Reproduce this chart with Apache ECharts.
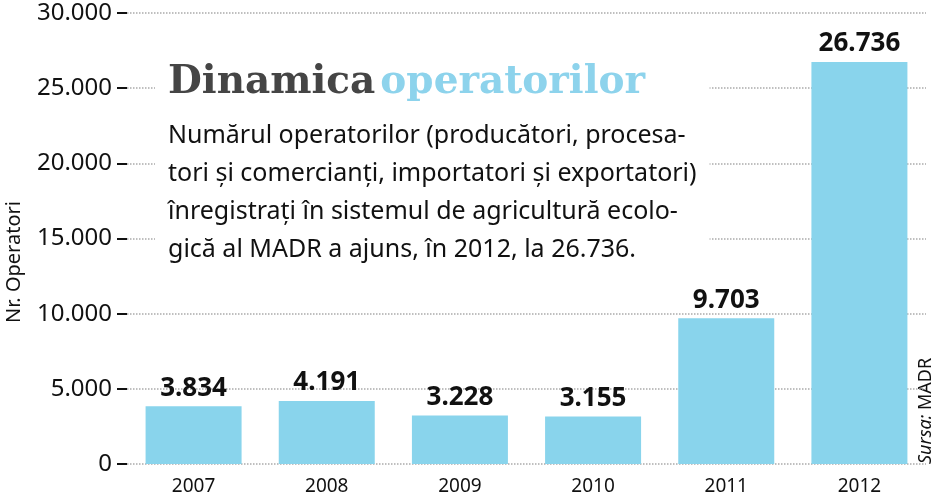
<!DOCTYPE html>
<html>
<head>
<meta charset="utf-8">
<script src="https://cdn.jsdelivr.net/npm/echarts@6/dist/echarts.min.js"></script>
<style>
  html, body { margin: 0; padding: 0; background: #fff; }
  #chart { width: 938px; height: 500px; }
</style>
</head>
<body>
<div id="chart"></div>
<script>
// data
const years = ['2007', '2008', '2009', '2010', '2011', '2012'];
const operators = [3834, 4191, 3228, 3155, 9703, 26736];
const yTicks = [0, 5000, 10000, 15000, 20000, 25000, 30000];

const titleMain = 'Dinamica';
const titleAccent = 'operatorilor';
const blurb = [
    'Numărul operatorilor (producători, procesa-',
    'tori și comercianți, importatori și exportatori)',
    'înregistrați în sistemul de agricultură ecolo-',
    'gică al MADR a ajuns, în 2012, la 26.736.'
];

const fmt = v => String(v).replace(/\B(?=(\d{3})+(?!\d))/g, '.');

const myChart = echarts.init(document.getElementById('chart'));
myChart.setOption({
    animation: false,
    title: {
        text: '{a|' + titleMain + '} {b|' + titleAccent + '}',
        subtext: blurb.join('\n'),
        left: 155,
        top: 43,
        padding: [20, 13, 10, 13],
        itemGap: 15,
        backgroundColor: '#fff',
        textStyle: {
            rich: {
                a: { fontFamily: 'DejaVu Serif', fontWeight: 'bold', fontSize: 39, color: '#454545' },
                b: { fontFamily: 'DejaVu Serif', fontWeight: 'bold', fontSize: 39, color: '#8DD3EC' }
            }
        },
        subtextStyle: {
            fontFamily: 'Noto Sans', fontSize: 25, color: '#111', lineHeight: 38
        }
    },
    grid: { left: 127, right: 12, top: 13, bottom: 36, outerBoundsMode: 'none' },
    xAxis: {
        type: 'category',
        data: years,
        axisLine: { show: false },
        axisTick: { show: false },
        axisLabel: { fontFamily: 'Noto Sans', fontSize: 19, color: '#111', margin: 13 }
    },
    yAxis: {
        type: 'value',
        min: yTicks[0],
        max: yTicks[yTicks.length - 1],
        interval: yTicks[1] - yTicks[0],
        axisLine: { show: false },
        axisTick: { show: true, length: 10, lineStyle: { color: '#111', width: 2 } },
        axisLabel: {
            fontFamily: 'Noto Sans', fontSize: 24, color: '#111', margin: 15,
            formatter: v => fmt(v)
        },
        splitLine: { lineStyle: { type: 'dotted', color: '#aaa', width: 1.5 } }
    },
    series: [{
        type: 'bar',
        data: operators,
        barWidth: 96,
        itemStyle: { color: '#89D4EC' },
        label: {
            show: true,
            position: 'top',
            distance: 5,
            fontFamily: 'Noto Sans',
            fontWeight: 'bold',
            fontSize: 26,
            color: '#111',
            formatter: p => fmt(p.value)
        }
    }],
    graphic: [{
        type: 'text',
        x: 14,
        y: 262,
        rotation: Math.PI / 2,
        style: {
            text: 'Nr. Operatori',
            fontFamily: 'Noto Sans',
            fontSize: 20,
            fill: '#111',
            align: 'center',
            verticalAlign: 'middle'
        }
    }, {
        type: 'text',
        x: 935,
        y: 464,
        rotation: Math.PI / 2,
        style: {
            text: '{i|Sursa:} MADR',
            fontFamily: 'Noto Sans',
            fontSize: 18,
            fill: '#111',
            align: 'left',
            verticalAlign: 'bottom',
            rich: { i: { fontStyle: 'italic', fontFamily: 'Noto Sans', fontSize: 18, fill: '#111' } }
        }
    }]
});
</script>
</body>
</html>
